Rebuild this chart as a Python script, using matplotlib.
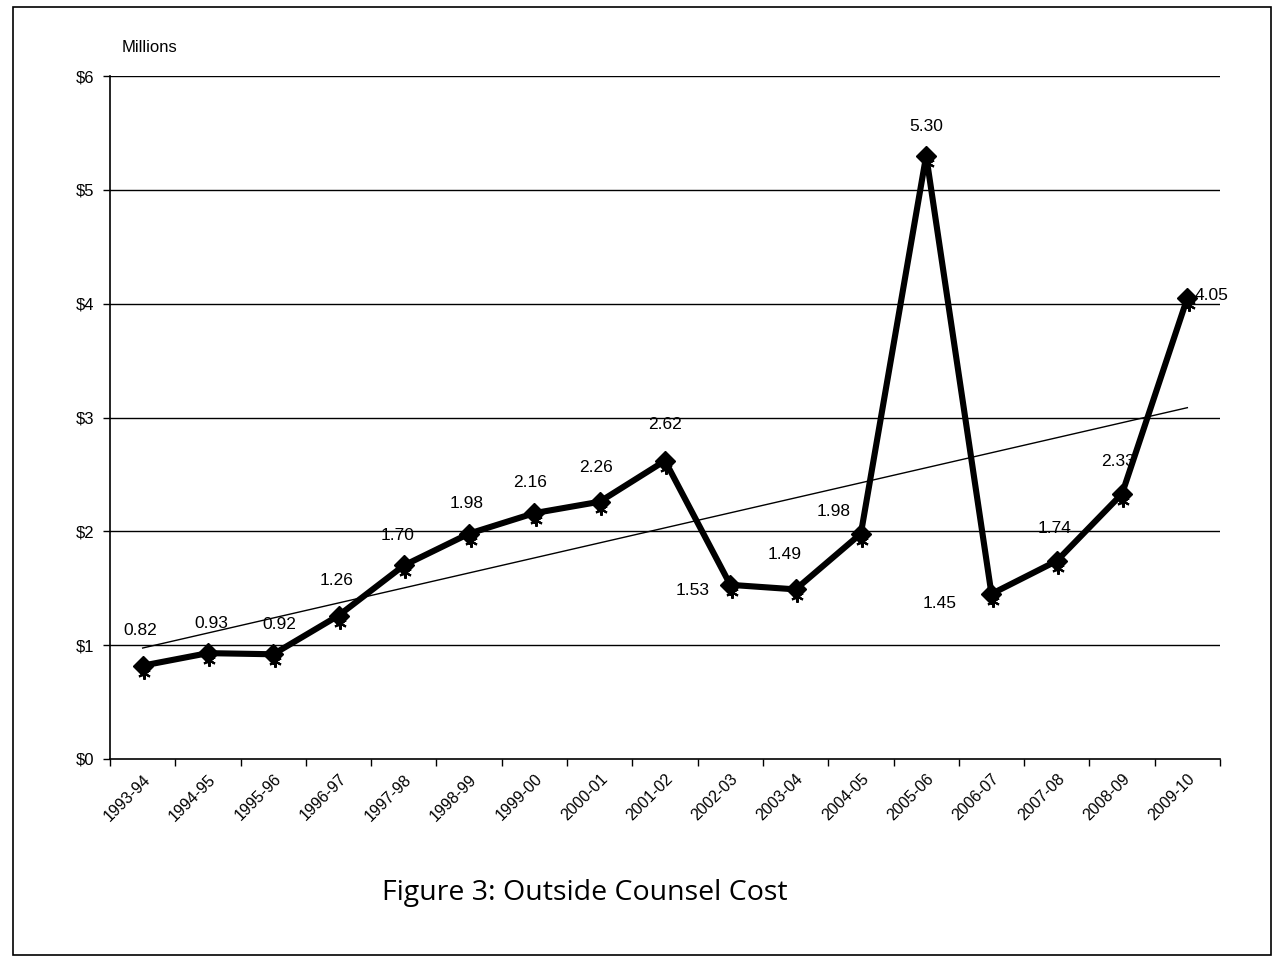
import numpy as np
import matplotlib
matplotlib.use("Agg")
import matplotlib.pyplot as plt
import matplotlib.transforms as mtransforms
from matplotlib.patches import Rectangle

plt.rcParams['font.family'] = ['Liberation Sans', 'DejaVu Sans']

years = ["1993-94", "1994-95", "1995-96", "1996-97", "1997-98", "1998-99",
         "1999-00", "2000-01", "2001-02", "2002-03", "2003-04", "2004-05",
         "2005-06", "2006-07", "2007-08", "2008-09", "2009-10"]
cost = [0.82, 0.93, 0.92, 1.26, 1.70, 1.98, 2.16, 2.26, 2.62, 1.53,
        1.49, 1.98, 5.30, 1.45, 1.74, 2.33, 4.05]
y_ticks = [0, 1, 2, 3, 4, 5, 6]
y_labels = ["$0", "$1", "$2", "$3", "$4", "$5", "$6"]

# label offsets in pixels (dx, dy) relative to each point
label_offsets = [(-2, 35), (3, 30), (6, 30), (-2, 35), (-6, 30), (-2, 30),
                 (-4, 31), (-4, 34), (0, 36), (-38, -6), (-11, 35), (-27, 22),
                 (0, 29), (-52, -10), (-2, 32), (-4, 32), (24, 2)]

fig = plt.figure(figsize=(12.75, 9.6), dpi=100)
ax = fig.add_axes([110 / 1275, 1 - 759 / 960, 1110 / 1275, 683 / 960])

x = np.arange(len(years))
ax.set_xlim(-0.5, len(years) - 0.5)
ax.set_ylim(0, 6)

for yv in y_ticks[1:]:
    ax.axhline(yv, color='black', lw=1.0, zorder=1)

# linear trend
coef = np.polyfit(x, cost, 1)
ax.plot(x, np.polyval(coef, x), color='black', lw=1.0, zorder=2)

# main series
ax.plot(x, cost, color='black', lw=4.4, marker='D', ms=10, zorder=4,
        solid_joinstyle='miter')
shift = mtransforms.offset_copy(ax.transData, fig=fig, x=1, y=-5, units='points')
ax.plot(x, cost, linestyle='none', marker=(6, 2, 0), ms=9, mew=1.5,
        color='black', transform=shift, zorder=5)

for xi, v, (dx, dy) in zip(x, cost, label_offsets):
    ax.annotate(f"{v:.2f}", (xi, v), xytext=(dx, dy), textcoords='offset pixels',
                ha='center', va='center', fontsize=12.5)

ax.set_xticks(np.arange(len(years) + 1) - 0.5, minor=False)
ax.set_xticklabels([])
ax.set_xticks(x, minor=True)
ax.set_xticklabels(years, minor=True, rotation=45, ha='right',
                   rotation_mode='anchor', fontsize=11.5)
ax.tick_params(axis='x', which='minor', length=0, pad=9)
ax.tick_params(axis='x', which='major', length=5, width=1, direction='out')
ax.set_yticks(y_ticks)
ax.set_yticklabels(y_labels, fontsize=12)
ax.tick_params(axis='y', length=5, width=1, direction='out', pad=6)

for side in ['top', 'right']:
    ax.spines[side].set_visible(False)
for side in ['left', 'bottom']:
    ax.spines[side].set_linewidth(1.2)

fig.text(122 / 1275, 1 - 47 / 960, "Millions", fontsize=12, ha='left', va='center')
fig.text(585 / 1275, 1 - 893 / 960, "Figure 3: Outside Counsel Cost",
         fontsize=20.5, ha='center', va='center', family=['Open Sans', 'DejaVu Sans'])

fig.patches.append(Rectangle((13 / 1275, 1 - 955 / 960), 1258 / 1275, 948 / 960,
                             transform=fig.transFigure, fill=False,
                             edgecolor='black', lw=1.2))

fig.savefig("out.png", dpi=100, facecolor='white')
